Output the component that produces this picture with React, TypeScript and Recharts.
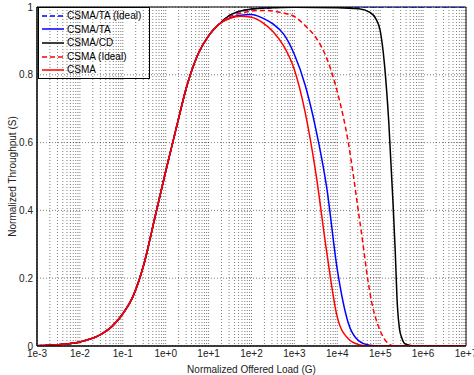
import { LineChart, Line, XAxis, YAxis, CartesianGrid, ReferenceArea } from "recharts";

// offered load is stored as log10(G)
const riseLogG = [-3, -2.5, -2, -1.5, -1.25, -1, -0.75, -0.5, -0.25, 0, 0.25, 0.5, 0.75, 1, 1.25];
const riseS = [0.001, 0.004, 0.012, 0.035, 0.058, 0.095, 0.15, 0.245, 0.38, 0.515, 0.645, 0.77, 0.86, 0.915, 0.95];

const taIdealLogG = [1.5, 1.75, 2, 2.5, 3, 4, 5, 6, 7];
const taIdealS = [0.976, 0.988, 0.994, 0.998, 1, 1, 1, 1, 1];

const taLogG = [1.5, 1.75, 2, 2.25, 2.5, 2.75, 3, 3.25, 3.5, 3.75, 4, 4.25, 4.5, 4.75, 5, 6, 7];
const taS = [0.968, 0.976, 0.978, 0.968, 0.95, 0.92, 0.86, 0.77, 0.64, 0.47, 0.225, 0.07, 0.015, 0.002, 0, 0, 0];

const cdLogG = [1.5, 1.75, 2, 2.5, 3, 4, 4.5, 4.75, 4.9, 5, 5.1, 5.2, 5.3, 5.35, 5.4, 5.45, 5.5, 5.55, 5.6, 5.8, 6, 7];
const cdS = [0.976, 0.988, 0.994, 0.998, 0.999, 0.998, 0.995, 0.985, 0.965, 0.93, 0.83, 0.66, 0.42, 0.28, 0.12, 0.05, 0.025, 0.01, 0.005, 0, 0, 0];

const csmaIdealLogG = [1.5, 1.75, 2, 2.25, 2.5, 2.75, 3, 3.25, 3.5, 3.75, 4, 4.25, 4.5, 4.6, 4.7, 4.8, 4.9, 5, 5.1, 5.2, 5.3, 5.5, 6, 7];
const csmaIdealS = [0.972, 0.982, 0.988, 0.99, 0.988, 0.982, 0.972, 0.945, 0.91, 0.85, 0.75, 0.605, 0.39, 0.3, 0.205, 0.13, 0.08, 0.045, 0.02, 0.007, 0.001, 0, 0, 0];

const csmaLogG = [1.5, 1.75, 2, 2.25, 2.5, 2.75, 3, 3.25, 3.5, 3.75, 4, 4.25, 4.5, 4.75, 5, 6, 7];
const csmaS = [0.967, 0.973, 0.97, 0.955, 0.928, 0.885, 0.815, 0.69, 0.51, 0.28, 0.085, 0.022, 0.004, 0, 0, 0, 0];

const decadeExp = [-3, -2, -1, 0, 1, 2, 3, 4, 5, 6, 7];
const decadeLabels = ["1e-3", "1e-2", "1e-1", "1e+0", "1e+1", "1e+2", "1e+3", "1e+4", "1e+5", "1e+6", "1e+7"];
const yTicks = [0, 0.2, 0.4, 0.6, 0.8, 1];

function toPoints(logG: number[], s: number[]) {
  return logG.map((lg, i) => ({ g: Math.pow(10, lg), s: s[i] }));
}

const rise = toPoints(riseLogG, riseS);

const series = [
  { name: "CSMA/TA (Ideal)", color: "#0000ff", dash: "5 3", data: [...rise, ...toPoints(taIdealLogG, taIdealS)] },
  { name: "CSMA/TA", color: "#0000ff", dash: undefined, data: [...rise, ...toPoints(taLogG, taS)] },
  { name: "CSMA/CD", color: "#000000", dash: undefined, data: [...rise, ...toPoints(cdLogG, cdS)] },
  { name: "CSMA (Ideal)", color: "#ff0000", dash: "5 3", data: [...rise, ...toPoints(csmaIdealLogG, csmaIdealS)] },
  { name: "CSMA", color: "#ff0000", dash: undefined, data: [...rise, ...toPoints(csmaLogG, csmaS)] },
];

// major + minor ticks for the log grid
const xTicks: number[] = [];
decadeExp.forEach((e, i) => {
  if (i === decadeExp.length - 1) {
    xTicks.push(Math.pow(10, e));
    return;
  }
  for (let m = 1; m <= 9; m++) xTicks.push(m * Math.pow(10, e));
});

function formatX(v: number) {
  const lg = Math.log10(v);
  const r = Math.round(lg);
  if (Math.abs(lg - r) > 1e-6) return "";
  const idx = decadeExp.indexOf(r);
  return idx >= 0 ? decadeLabels[idx] : "";
}

const font = "Liberation Sans, Arial, sans-serif";

function ChartLegend() {
  return (
    <div
      style={{
        position: "absolute",
        left: 38,
        top: 7,
        width: 108,
        border: "1px solid #000",
        padding: "1px 0 1px 2px",
        fontSize: 10,
        fontFamily: font,
        lineHeight: "13.6px",
        color: "#000",
      }}
    >
      {series.map((s) => (
        <div key={s.name} style={{ display: "flex", alignItems: "center", height: 13.6 }}>
          <svg width={24} height={12} style={{ marginRight: 2, flex: "none" }}>
            <line x1={1} y1={6} x2={23} y2={6} stroke={s.color} strokeWidth={1.5} strokeDasharray={s.dash} />
          </svg>
          <span>{s.name}</span>
        </div>
      ))}
    </div>
  );
}

export default function App() {
  return (
    <div style={{ position: "absolute", left: 0, top: 0, width: 474, height: 375, background: "#fff" }}>
      <LineChart width={474} height={375} margin={{ top: 7, right: 8, bottom: 0, left: 0 }}>
        <CartesianGrid stroke="#000" strokeOpacity={0.5} strokeDasharray="1 2" />
        <XAxis
          dataKey="g"
          type="number"
          scale="log"
          domain={[1e-3, 1e7]}
          ticks={xTicks}
          tickFormatter={formatX}
          interval={0}
          allowDataOverflow
          height={29}
          tickLine={false}
          tickSize={2}
          tickMargin={2}
          axisLine={{ stroke: "#000" }}
          tick={{ fontSize: 10, fill: "#222", fontFamily: font }}
          label={{ value: "Normalized Offered Load (G)", position: "insideBottom", offset: 2, fontSize: 10, fill: "#222", fontFamily: font }}
        />
        <YAxis
          dataKey="s"
          type="number"
          domain={[0, 1]}
          ticks={yTicks}
          allowDataOverflow
          width={37}
          tickLine={false}
          tickSize={2}
          tickMargin={2}
          axisLine={{ stroke: "#000" }}
          tick={{ fontSize: 10, fill: "#222", fontFamily: font }}
          label={{ value: "Normalized Throughput (S)", angle: -90, position: "insideLeft", offset: 12, fontSize: 10, fill: "#222", fontFamily: font, style: { textAnchor: "middle" } }}
        />
        <ReferenceArea x1={1e-3} x2={1e7} y1={0} y2={1} fill="none" stroke="#000" strokeWidth={1} />
        {series.map((s) => (
          <Line
            key={s.name}
            data={s.data}
            dataKey="s"
            name={s.name}
            type="monotone"
            stroke={s.color}
            strokeWidth={1.5}
            strokeDasharray={s.dash}
            dot={false}
            activeDot={false}
            isAnimationActive={false}
          />
        ))}
      </LineChart>
      <ChartLegend />
    </div>
  );
}
